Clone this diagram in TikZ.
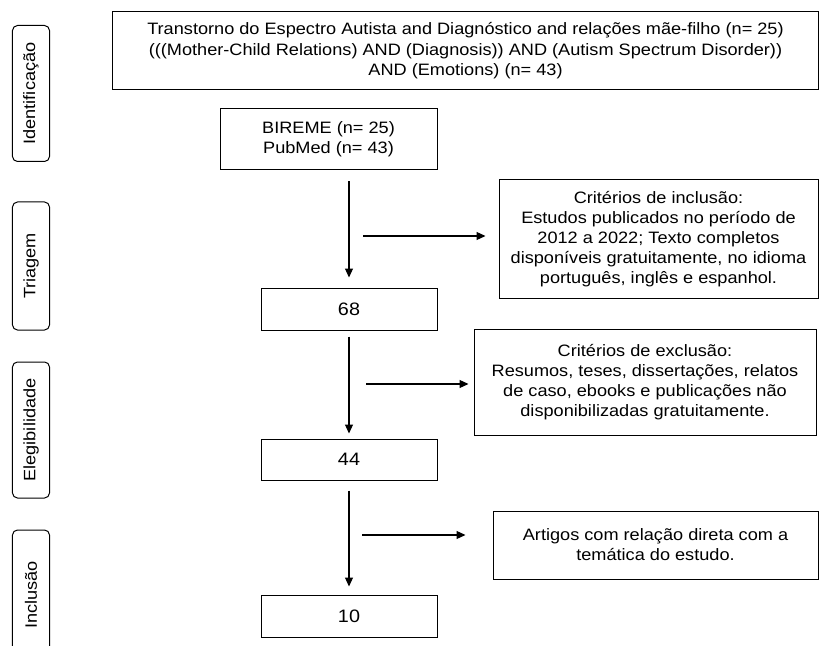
\documentclass[tikz,border=0pt]{standalone}
\usepackage{fontspec}
\setmainfont{Liberation Sans}[FakeStretch=1.1]
\usetikzlibrary{arrows.meta}
\begin{document}
\begin{tikzpicture}[x=1bp,y=-1bp,
  box/.style={draw, line width=1bp, inner sep=0pt, align=center,
    font=\fontsize{16.5bp}{20bp}\selectfont},
  phase/.style={draw, rounded corners=5bp, line width=1bp, inner sep=0pt,
    rotate=90, minimum height=37bp, font=\fontsize{16.5bp}{20bp}\selectfont},
  arr/.style={-{Triangle[length=9bp,width=8bp]}, line width=1.2bp}]
\useasboundingbox (0,0) rectangle (830,646);
\clip (0,0) rectangle (830,646);
% phase labels
\node[phase, minimum width=136bp] (idf) at (31,93.5) {Identificação};
\node[phase, minimum width=128bp] (tri) at (31,266) {Triagem};
\node[phase, minimum width=136bp] (ele) at (31,430) {Elegibilidade};
\node[phase, minimum width=130bp] (inc) at (31,595) {Inclusão};
% main boxes
\node[box, minimum width=705bp, minimum height=78bp, font=\fontsize{16.5bp}{20.5bp}\selectfont] (top) at (465.5,51)
  {Transtorno do Espectro Autista and Diagnóstico and relações mãe-filho (n= 25)\\
   (((Mother-Child Relations) AND (Diagnosis)) AND (Autism Spectrum Disorder))\\
   AND (Emotions) (n= 43)};
\node[box, minimum width=217bp, minimum height=61bp] (bir) at (328.5,139.5)
  {BIREME (n= 25)\\PubMed (n= 43)};
\node[box, minimum width=176bp, minimum height=42bp, font=\fontsize{18bp}{20bp}\selectfont] (n68) at (349,309) {68};
\node[box, minimum width=176bp, minimum height=41bp, font=\fontsize{18bp}{20bp}\selectfont] (n44) at (349,459.5) {44};
\node[box, minimum width=176bp, minimum height=42bp, font=\fontsize{18bp}{20bp}\selectfont] (n10) at (349,616) {10};
% side boxes
\node[box, minimum width=319bp, minimum height=118bp] (incl) at (658.5,239)
  {Critérios de inclusão:\\Estudos publicados no período de\\2012 a 2022; Texto completos\\disponíveis gratuitamente, no idioma\\português, inglês e espanhol.};
\node[box, minimum width=342bp, minimum height=106bp] (excl) at (645,382)
  {Critérios de exclusão:\\Resumos, teses, dissertações, relatos\\de caso, ebooks e publicações não\\disponibilizadas gratuitamente.};
\node[box, minimum width=325bp, minimum height=68bp] (art) at (655.5,545)
  {Artigos com relação direta com a\\temática do estudo.};
% vertical arrows
\draw[arr, shorten <=11bp, shorten >=10bp] (bir.south -| n68.north) -- (n68.north);
\draw[arr, shorten <=6bp, shorten >=5bp] (n68.south) -- (n44.north);
\draw[arr, shorten <=10bp, shorten >=8bp] (n44.south) -- (n10.north);
% side arrows
\coordinate (s1) at (363,236);
\coordinate (s2) at (366,384);
\coordinate (s3) at (362,535);
\draw[arr, shorten >=13bp] (s1) -- (s1 -| incl.west);
\draw[arr, shorten >=5bp] (s2) -- (s2 -| excl.west);
\draw[arr, shorten >=27bp] (s3) -- (s3 -| art.west);
\end{tikzpicture}
\end{document}
